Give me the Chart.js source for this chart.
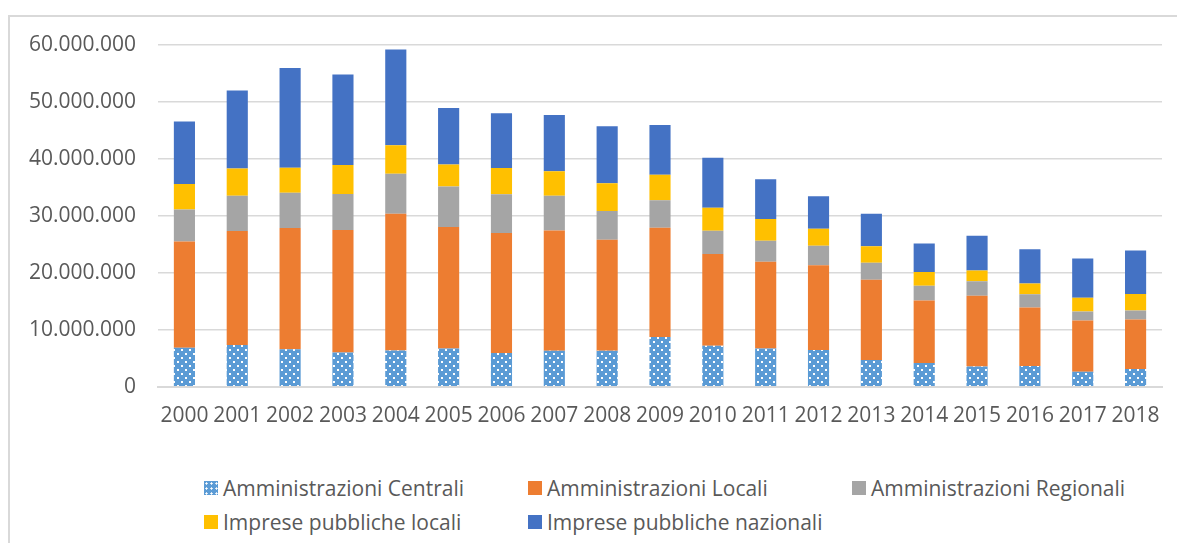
<!DOCTYPE html>
<html>
<head>
<meta charset="utf-8">
<script src="https://cdn.jsdelivr.net/npm/chart.js@4"></script>
<style>
  body { margin: 0; background: #fff; }
  #frame { position: absolute; left: 8px; top: 15px; width: 1180px; height: 540px;
           border-left: 2px solid #d9d9d9; border-top: 2px solid #d9d9d9; }
  #wrap { position: absolute; left: 0; top: 0; width: 1177px; height: 446px; }
  #legend { position: absolute; left: 204px; top: 474px; font-family: 'Open Sans', sans-serif;
            font-size: 21px; color: #595959; display: grid;
            grid-template-columns: 324px 324px auto; row-gap: 6px; }
  .item { display: flex; align-items: center; height: 28px; white-space: nowrap; }
  .sw { width: 14px; height: 14px; margin-right: 5px; display: inline-block; flex: none; }
</style>
</head>
<body>
<div id="frame"></div>
<div id="wrap"><canvas id="chart"></canvas></div>
<div id="legend"></div>
<script>
const years = ['2000', '2001', '2002', '2003', '2004', '2005', '2006', '2007', '2008', '2009',
               '2010', '2011', '2012', '2013', '2014', '2015', '2016', '2017', '2018'];

// values in millions
const centrali   = [6.86, 7.33, 6.57, 6.04, 6.39, 6.74, 5.92, 6.33, 6.33, 8.74, 7.21, 6.74, 6.45, 4.69, 4.16, 3.58, 3.64, 2.64, 3.11];
const locali     = [18.65, 20.0, 21.3, 21.5, 24.0, 21.3, 21.1, 21.1, 19.5, 19.2, 16.1, 15.2, 14.9, 14.1, 11.0, 12.4, 10.3, 9.0, 8.7];
const regionali  = [5.6, 6.2, 6.2, 6.3, 7.0, 7.1, 6.8, 6.1, 5.05, 4.8, 4.1, 3.7, 3.4, 3.0, 2.6, 2.55, 2.3, 1.6, 1.6];
const impLocali  = [4.5, 4.8, 4.4, 5.1, 5.0, 3.9, 4.6, 4.3, 4.85, 4.5, 4.0, 3.8, 3.0, 2.9, 2.4, 1.9, 1.9, 2.4, 2.9];
const impNaz     = [10.95, 13.7, 17.5, 15.9, 16.8, 9.9, 9.6, 9.9, 10.0, 8.7, 8.8, 7.0, 5.7, 5.7, 5.0, 6.1, 6.0, 6.9, 7.6];

const yTicks = [0, 10000000, 20000000, 30000000, 40000000, 50000000, 60000000];

const toUnits = arr => arr.map(v => Math.round(v * 1000000));

// dotted fill for Amministrazioni Centrali
function dots() {
  const c = document.createElement('canvas');
  c.width = 8; c.height = 8;
  const g = c.getContext('2d');
  g.fillStyle = '#5b9bd5';
  g.fillRect(0, 0, 8, 8);
  g.fillStyle = '#ffffff';
  g.fillRect(1, 1, 2, 2);
  g.fillRect(5, 5, 2, 2);
  return g.createPattern(c, 'repeat');
}
const dotPattern = dots();

function fmt(v) {
  return String(v).replace(/\B(?=(\d{3})+(?!\d))/g, '.');
}

const font = { family: "'Open Sans', sans-serif", size: 21 };

const chart = new Chart(document.getElementById('chart'), {
  type: 'bar',
  data: {
    labels: years,
    datasets: [
      { label: 'Amministrazioni Centrali', data: toUnits(centrali), backgroundColor: dotPattern },
      { label: 'Amministrazioni Locali', data: toUnits(locali), backgroundColor: '#ed7d31' },
      { label: 'Amministrazioni Regionali', data: toUnits(regionali), backgroundColor: '#a5a5a5' },
      { label: 'Imprese pubbliche locali', data: toUnits(impLocali), backgroundColor: '#ffc000' },
      { label: 'Imprese pubbliche nazionali', data: toUnits(impNaz), backgroundColor: '#4472c4' }
    ]
  },
  options: {
    responsive: true,
    maintainAspectRatio: false,
    animation: false,
    barPercentage: 0.4,
    categoryPercentage: 1,
    layout: { padding: { left: 8, right: 15, top: 45, bottom: 0 } },
    scales: {
      x: {
        stacked: true,
        grid: { display: false, drawTicks: false },
        border: { color: '#d9d9d9', width: 2 },
        ticks: { color: '#595959', font: font, padding: 17, maxRotation: 0 }
      },
      y: {
        stacked: true,
        min: 0,
        max: 60000000,
        afterBuildTicks: s => { s.ticks = yTicks.map(v => ({ value: v })); },
        afterFit: s => { s.width = 150; },
        grid: { color: '#d9d9d9', lineWidth: 1.5, drawTicks: false },
        border: { display: false },
        ticks: { color: '#595959', font: font, padding: 22, callback: v => fmt(v) }
      }
    },
    plugins: {
      legend: { display: false },
      tooltip: { enabled: false }
    }
  }
});

// legend in Excel-like grid, built from the chart's datasets
const legend = document.getElementById('legend');
chart.data.datasets.forEach((ds, i) => {
  const item = document.createElement('div');
  item.className = 'item';
  const sw = document.createElement('span');
  sw.className = 'sw';
  if (i === 0) {
    sw.style.background = 'radial-gradient(circle, #fff 0.9px, transparent 1.3px) 0 0 / 5px 5px, #5b9bd5';
  } else {
    sw.style.background = ds.backgroundColor;
  }
  const txt = document.createElement('span');
  txt.textContent = ds.label;
  item.appendChild(sw);
  item.appendChild(txt);
  legend.appendChild(item);
});
</script>
</body>
</html>
